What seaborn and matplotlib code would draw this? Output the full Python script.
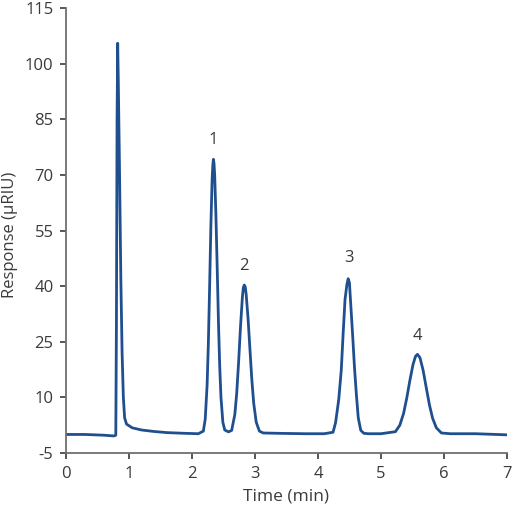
import pandas as pd
import seaborn as sns
import matplotlib.pyplot as plt

# trace: time (min) and response (uRIU)
time = [0.00, 0.30, 0.60, 0.76, 0.79, 0.80, 0.81, 0.82, 0.83, 0.85, 0.87, 0.89, 0.91, 0.93,
        0.96, 1.05, 1.20, 1.40, 1.60, 1.90, 2.10,
        2.18, 2.21, 2.24, 2.26, 2.28, 2.30, 2.32, 2.33, 2.34, 2.35, 2.36, 2.38, 2.40, 2.42,
        2.44, 2.46, 2.49, 2.52, 2.58,
        2.63, 2.68, 2.71, 2.74, 2.77, 2.80, 2.815, 2.83, 2.845, 2.86, 2.89, 2.92, 2.95, 2.98,
        3.02, 3.07, 3.13,
        3.40, 3.80, 4.10,
        4.24, 4.28, 4.33, 4.37, 4.40, 4.43, 4.46, 4.48, 4.50, 4.52, 4.55, 4.58, 4.61, 4.64,
        4.68, 4.73, 4.80,
        5.00, 5.23, 5.30, 5.36, 5.41, 5.46, 5.51, 5.55, 5.58, 5.62, 5.67, 5.72, 5.77, 5.82,
        5.88, 5.96, 6.10, 6.50, 7.00]
response = [0.0, 0.0, -0.2, -0.4, -0.2, 30.0, 85.0, 105.5, 95.0, 70.0, 42.0, 22.0, 10.0, 4.5,
            2.8, 1.8, 1.2, 0.8, 0.5, 0.3, 0.2,
            0.9, 4.1, 13.4, 24.7, 40.0, 56.5, 69.0, 72.5, 74.2, 73.0, 70.0, 59.0, 45.0, 30.4,
            18.4, 10.0, 3.3, 1.2, 0.7,
            1.1, 5.4, 11.1, 19.5, 29.0, 37.0, 39.6, 40.3, 39.8, 37.8, 31.3, 23.0, 14.8, 8.4,
            3.3, 0.9, 0.4,
            0.3, 0.2, 0.2,
            0.6, 3.2, 9.4, 17.3, 27.2, 36.4, 40.5, 42.0, 40.9, 35.3, 27.0, 18.1, 10.8, 4.5,
            1.1, 0.3, 0.2,
            0.2, 0.75, 2.5, 5.7, 9.8, 14.6, 18.9, 21.1, 21.6, 20.7, 17.3, 12.6, 8.0, 4.4,
            1.8, 0.4, 0.2, 0.2, -0.1]

peak_names = ["1", "2", "3", "4"]
peak_times = [2.34, 2.83, 4.50, 5.58]
peak_label_y = [79.5, 45.5, 47.5, 26.5]

x_ticks = [0, 1, 2, 3, 4, 5, 6, 7]
y_ticks = [-5, 10, 25, 40, 55, 70, 85, 100, 115]

sns.set_style("ticks")
plt.rcParams["font.family"] = ["Open Sans", "DejaVu Sans"]
plt.rcParams["axes.unicode_minus"] = False

df = pd.DataFrame({"Time": time, "Response": response})

fig = plt.figure(figsize=(5.12, 5.07), dpi=100)
ax = fig.add_axes([0.129, 0.1065, 0.861, 0.8777])
sns.lineplot(data=df, x="Time", y="Response", ax=ax, color="#1f4f8f", linewidth=2)

for name, t, y in zip(peak_names, peak_times, peak_label_y):
    ax.text(t, y, name, ha="center", va="center", fontsize=12, color="#3a3a3a")

ax.set_xlim(0, 7)
ax.set_ylim(-5, 115)
ax.set_xticks(x_ticks)
ax.set_yticks(y_ticks)
ax.set_xlabel("Time (min)", fontsize=12.5, color="#3a3a3a", labelpad=5)
ax.set_ylabel("Response (µRIU)", fontsize=12, color="#3a3a3a", va="center")
ax.yaxis.set_label_coords(-0.127, 0.49)
ax.tick_params(labelsize=12, colors="#3a3a3a", length=4, width=1.2, pad=5)
for side in ["left", "bottom"]:
    ax.spines[side].set_color("#707070")
    ax.spines[side].set_linewidth(1.3)
sns.despine(ax=ax)

fig.savefig("out.png", dpi=100)
